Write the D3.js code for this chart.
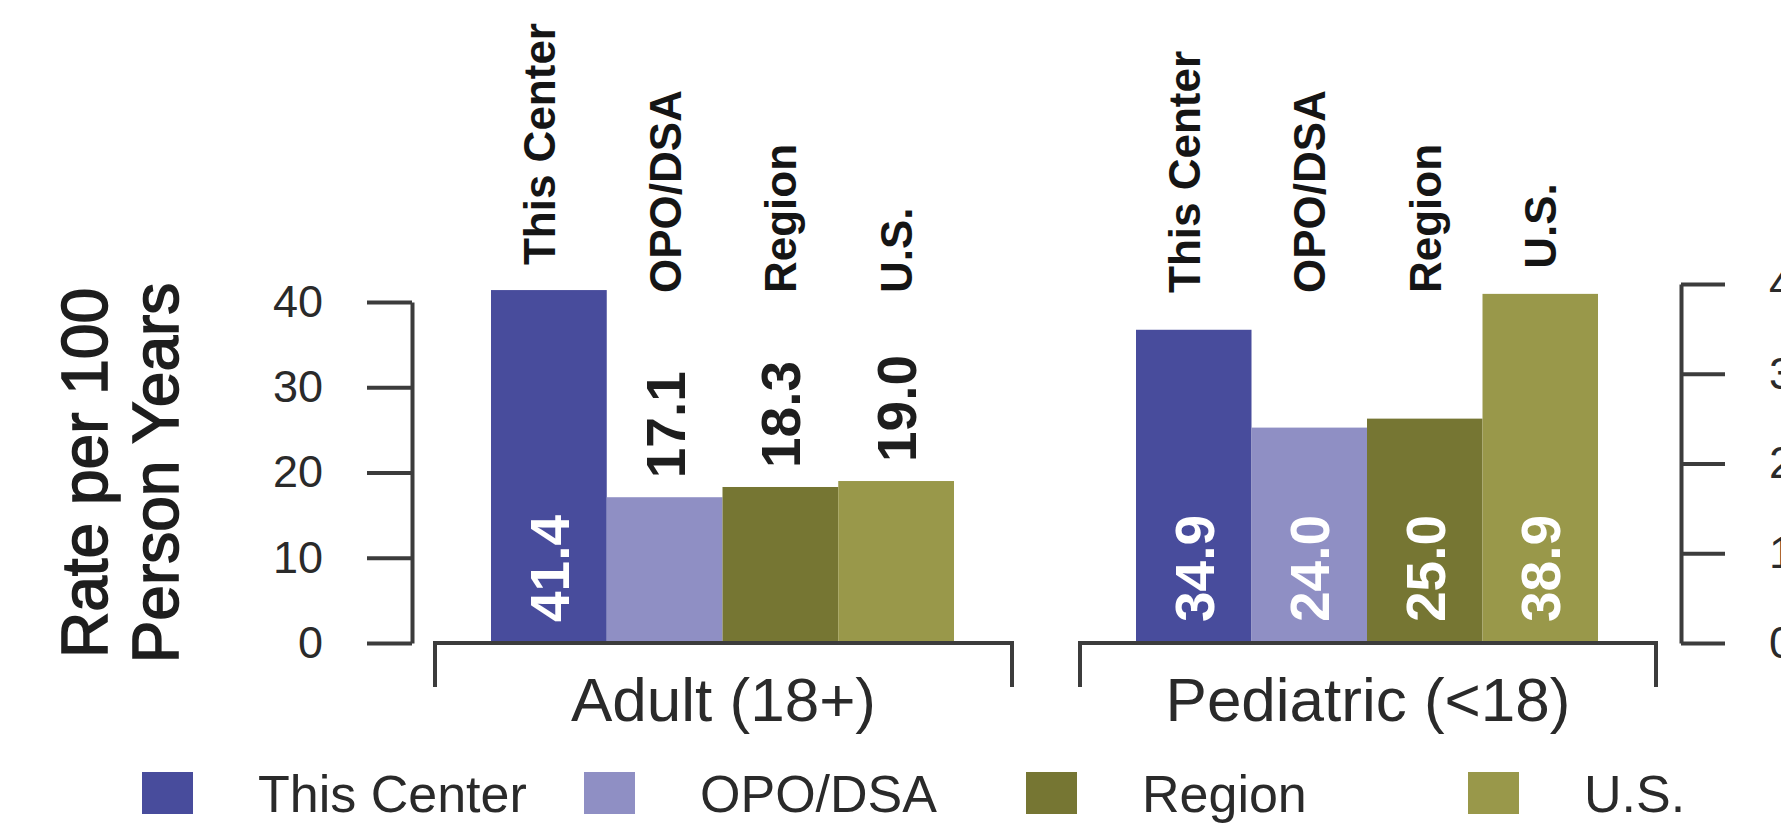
<!DOCTYPE html>
<html>
<head>
<meta charset="utf-8">
<script src="https://cdn.jsdelivr.net/npm/d3@7"></script>
<style>
  html, body { margin: 0; padding: 0; background: #fff; }
  svg { display: block; font-family: "Liberation Sans", Arial, Helvetica, sans-serif; }
</style>
</head>
<body>
<script>
// Series categories and per-group values (rate per 100 person years)
const categories = ["This Center", "OPO/DSA", "Region", "U.S."];
const groups = ["Adult (18+)", "Pediatric (<18)"];
const adultValues = [41.4, 17.1, 18.3, 19.0];
const pediatricValues = [34.9, 24.0, 25.0, 38.9];
const yTicks = [0, 10, 20, 30, 40];
const titleLines = ["Rate per 100", "Person Years"];
const colors = ["#484C9C", "#8F8FC4", "#767633", "#99984A"];

const W = 1781, H = 824;
const baseY = 643;
const axisColor = "#3c3c3c";
const textColor = "#2a2a2a";

const svg = d3.select("body").append("svg").attr("width", W).attr("height", H);

// Each group panel has its own value axis
const yLeft = d3.scaleLinear().domain([0, 40]).range([baseY, 302]);
const yRight = d3.scaleLinear().domain([0, 40]).range([baseY, 284]);

const panels = [
  { name: groups[0], values: adultValues, x0: 435, x1: 1012, y: yLeft },
  { name: groups[1], values: pediatricValues, x0: 1080, x1: 1656, y: yRight }
];

const fmt = d3.format(".1f");
const color = d3.scaleOrdinal().domain(categories).range(colors);

panels.forEach(p => {
  const x = d3.scaleBand().domain(categories).range([p.x0 + 56, p.x1 - 58]).padding(0);
  const g = svg.append("g");
  const rows = categories.map((c, i) => ({ c, v: p.values[i], i }));

  // bars
  g.selectAll("rect.bar").data(rows).join("rect")
    .attr("class", "bar")
    .attr("x", d => x(d.c))
    .attr("y", d => p.y(d.v))
    .attr("width", x.bandwidth())
    .attr("height", d => baseY - p.y(d.v))
    .attr("fill", d => color(d.c));

  // value labels: inside tall bars, above short ones
  g.selectAll("text.val").data(rows).join("text")
    .attr("class", "val")
    .each(function (d) {
      const h = baseY - p.y(d.v);
      const inside = h > 180;
      const cx = x(d.c) + x.bandwidth() / 2 + 20;
      const yy = inside ? baseY - 21 : p.y(d.v) - 19;
      d3.select(this)
        .attr("transform", `translate(${cx},${yy}) rotate(-90)`)
        .attr("fill", inside ? "#ffffff" : "#1e1e1e");
    })
    .attr("text-anchor", "start")
    .attr("font-size", 55)
    .attr("font-weight", "bold")
    .text(d => fmt(d.v));

  // category labels above the bars
  g.selectAll("text.cat").data(rows).join("text")
    .attr("class", "cat")
    .attr("transform", d => {
      const cx = x(d.c) + x.bandwidth() / 2 + 16 - (d.i === 0 ? 10 : 0);
      const yy = Math.min(293, p.y(d.v) - 25);
      return `translate(${cx},${yy}) rotate(-90)`;
    })
    .attr("text-anchor", "start")
    .attr("font-size", 44)
    .attr("font-weight", "bold")
    .attr("fill", "#151515")
    .text(d => d.c);

  // group bracket
  g.append("path")
    .attr("d", `M${p.x0},687V${baseY}H${p.x1}V687`)
    .attr("fill", "none")
    .attr("stroke", axisColor)
    .attr("stroke-width", 4);

  g.append("text")
    .attr("x", (p.x0 + p.x1) / 2)
    .attr("y", 721)
    .attr("text-anchor", "middle")
    .attr("font-size", 62)
    .attr("fill", textColor)
    .text(p.name);
});

// value axes
function styleAxis(sel) {
  sel.selectAll("path, line").attr("stroke", axisColor).attr("stroke-width", 4);
  sel.selectAll("text").attr("font-size", 45).attr("fill", textColor)
    .attr("font-family", "\"Liberation Sans\", Arial, sans-serif");
}

svg.append("g")
  .attr("transform", "translate(412,0)")
  .call(d3.axisLeft(yLeft).tickValues(yTicks).tickSize(45).tickSizeOuter(0).tickPadding(44))
  .call(styleAxis);

svg.append("g")
  .attr("transform", "translate(1681,0)")
  .call(d3.axisRight(yRight).tickValues(yTicks).tickSize(44).tickSizeOuter(0).tickPadding(44))
  .call(styleAxis);

// axis title (slightly heavier stroke than the regular face)
svg.selectAll("text.title").data(titleLines).join("text")
  .attr("class", "title")
  .attr("transform", (d, i) => `translate(${107 + i * 71},473) rotate(-90)`)
  .attr("text-anchor", "middle")
  .attr("font-size", 64)
  .attr("fill", "#1e1e1e")
  .attr("stroke", "#1e1e1e")
  .attr("stroke-width", 1.6)
  .text(d => d);

// legend
const legend = svg.append("g");
const li = legend.selectAll("g").data(categories).join("g")
  .attr("transform", (d, i) => `translate(${142 + i * 442},0)`);
li.append("rect")
  .attr("x", 0).attr("y", 772)
  .attr("width", 51).attr("height", 42)
  .attr("fill", d => color(d));
li.append("text")
  .attr("x", 116).attr("y", 812)
  .attr("font-size", 52)
  .attr("fill", textColor)
  .text(d => d);
</script>
</body>
</html>
